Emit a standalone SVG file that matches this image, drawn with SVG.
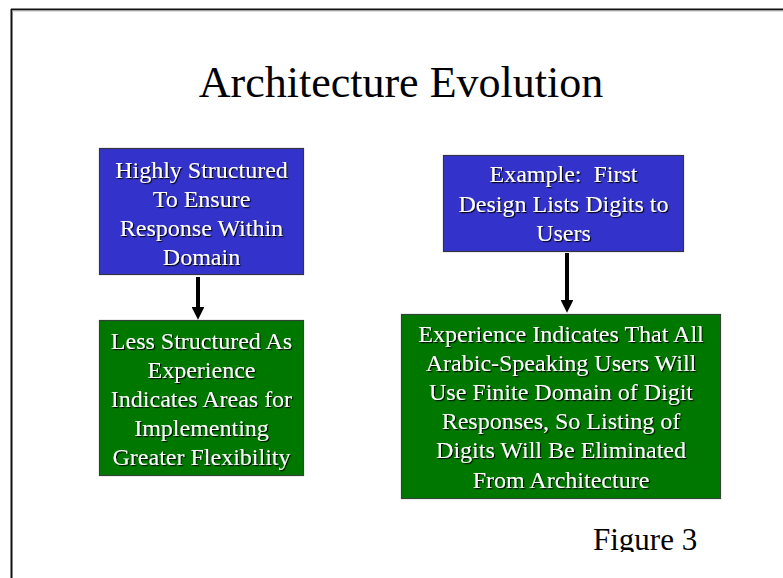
<svg xmlns="http://www.w3.org/2000/svg" width="783" height="578" viewBox="0 0 783 578">
<defs>
<style>
.t{font-family:"Liberation Serif","Times New Roman",serif;text-anchor:middle;white-space:pre;}
.bt{font-size:24px;fill:#ffffff;filter:url(#sh);}
.blue{fill:#3333CC;stroke:#333344;stroke-width:1.2;}
.green{fill:#007800;stroke:#334433;stroke-width:1.2;}
.conn{stroke:#000;stroke-width:4;fill:none;}
</style>
<filter id="sh" x="-10%" y="-10%" width="120%" height="140%">
<feDropShadow dx="1.2" dy="1.2" stdDeviation="0.3" flood-color="#000" flood-opacity="0.9"/>
</filter>
<marker id="ah" markerWidth="3.2" markerHeight="3.2" refX="1" refY="1.6" orient="auto" markerUnits="strokeWidth" viewBox="0 0 3.2 3.2">
<path d="M0,0 L3.2,1.6 L0,3.2 Z" fill="#000"/>
</marker>
<clipPath id="clip"><rect x="0" y="0" width="783" height="552"/></clipPath>
</defs>
<rect width="783" height="578" fill="#fff"/>
<g id="frame">
<line x1="11.5" y1="9" x2="11.5" y2="578" stroke="#111" stroke-width="2"/>
<line x1="11" y1="9.5" x2="783" y2="9.5" stroke="#111" stroke-width="2"/>
<line x1="12" y1="11" x2="783" y2="11" stroke="#bbb" stroke-width="1"/>
</g>
<text id="title" class="t" x="401" y="97" font-size="44" fill="#000">Architecture Evolution</text>
<g id="connectors">
<line class="conn" x1="198" y1="277" x2="198" y2="311" marker-end="url(#ah)"/>
<line class="conn" x1="567" y1="253" x2="567" y2="304" marker-end="url(#ah)"/>
</g>
<g id="n1">
<rect class="blue" x="99.5" y="148.5" width="204" height="126"/>
<text class="t bt" x="201.5" y="178">Highly Structured</text>
<text class="t bt" x="201.5" y="207">To Ensure</text>
<text class="t bt" x="201.5" y="236">Response Within</text>
<text class="t bt" x="201.5" y="265">Domain</text>
</g>
<g id="n2">
<rect class="green" x="99.5" y="320.5" width="204" height="155"/>
<text class="t bt" x="201.5" y="349">Less Structured As</text>
<text class="t bt" x="201.5" y="378">Experience</text>
<text class="t bt" x="201.5" y="407">Indicates Areas for</text>
<text class="t bt" x="201.5" y="436">Implementing</text>
<text class="t bt" x="201.5" y="465">Greater Flexibility</text>
</g>
<g id="n3">
<rect class="blue" x="443.5" y="155.5" width="240" height="96"/>
<text class="t bt" x="563.5" y="182" xml:space="preserve">Example:  First</text>
<text class="t bt" x="563.5" y="212">Design Lists Digits to</text>
<text class="t bt" x="563.5" y="241">Users</text>
</g>
<g id="n4">
<rect class="green" x="401.5" y="314.5" width="319" height="184"/>
<text class="t bt" x="561" y="342">Experience Indicates That All</text>
<text class="t bt" x="561" y="371">Arabic-Speaking Users Will</text>
<text class="t bt" x="561" y="400">Use Finite Domain of Digit</text>
<text class="t bt" x="561" y="429">Responses, So Listing of</text>
<text class="t bt" x="561" y="458">Digits Will Be Eliminated</text>
<text class="t bt" x="561" y="488">From Architecture</text>
</g>
<text id="fig" x="593" y="550" font-family="Liberation Serif, Times New Roman, serif" font-size="31" fill="#000" clip-path="url(#clip)">Figure 3</text>
</svg>
